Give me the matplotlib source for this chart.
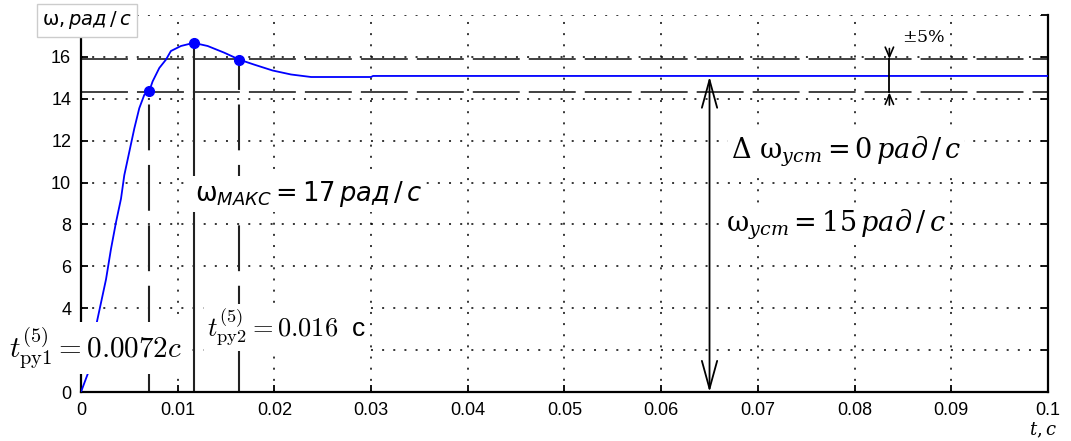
import matplotlib
matplotlib.use("Agg")
import matplotlib.pyplot as plt

plt.rcParams['font.family'] = ['Liberation Sans', 'DejaVu Sans']

# переходный процесс w(t)
t_vals = [0.0, 0.00093, 0.00155, 0.00207, 0.00259, 0.0031, 0.00362, 0.00414,
          0.00448, 0.005, 0.00552, 0.00603, 0.00655, 0.00707, 0.00741, 0.0081,
          0.00879, 0.0093, 0.01034, 0.01165, 0.0131, 0.01482, 0.01637, 0.01792,
          0.01982, 0.02172, 0.02379, 0.0300, 0.0302, 0.1]
w_vals = [0.0, 1.15, 3.14, 4.26, 5.38, 6.82, 8.1, 9.23,
          10.35, 11.47, 12.59, 13.55, 14.19, 14.38, 14.83, 15.47,
          15.87, 16.28, 16.52, 16.67, 16.52, 16.2, 15.87, 15.63,
          15.35, 15.16, 15.04, 15.04, 15.09, 15.09]

# характерные точки: t_py1, максимум, t_py2
pt_t = [0.00707, 0.01165, 0.01637]
pt_w = [14.38, 16.67, 15.87]

w_ust = 15.06
band_hi, band_lo = 15.9, 14.3      # зона +-5%
t_arrow = 0.065
t_band = 0.0836

xticks = [0, 0.01, 0.02, 0.03, 0.04, 0.05, 0.06, 0.07, 0.08, 0.09, 0.1]
xlabels = ['0', '0.01', '0.02', '0.03', '0.04', '0.05', '0.06', '0.07', '0.08', '0.09', '0.1']
yticks = [0, 2, 4, 6, 8, 10, 12, 14, 16, 18]
ylabels = ['0', '', '4', '6', '8', '10', '12', '14', '16', '']   # 2 и 18 закрыты надписями

fig = plt.figure(figsize=(10.71, 4.41), dpi=100)
ax = fig.add_axes([0.0756, 0.111, 0.9029, 0.855])

ax.set_xlim(0, 0.1)
ax.set_ylim(0, 18)
ax.set_xticks(xticks)
ax.set_xticklabels(xlabels)
ax.set_yticks(yticks)
ax.set_yticklabels(ylabels)
ax.tick_params(direction='in', length=5, width=1.3, labelsize=13, pad=7,
               right=True, top=False)
for s in ['left', 'bottom', 'right']:
    ax.spines[s].set_linewidth(1.6)
ax.spines['top'].set_visible(False)
ax.grid(True, color='black', linestyle=(0, (1.3, 6)), linewidth=1.1)

# кривая
ax.plot(t_vals, w_vals, color='#0000ff', lw=1.3, zorder=3)

# границы +-5%
hd = (0, (26, 5))
ax.axhline(band_hi, color='#333333', lw=1.3, linestyle=hd, zorder=2)
ax.axhline(band_lo, color='#333333', lw=1.3, linestyle=hd, zorder=2)

# вертикальные линии к точкам
vd = (0, (22, 7))
ax.plot([pt_t[0], pt_t[0]], [0, pt_w[0]], color='#222222', lw=1.5, linestyle=vd, zorder=2)
ax.plot([pt_t[1], pt_t[1]], [0, pt_w[1]], color='#222222', lw=1.5, zorder=2)
ax.plot([pt_t[2], pt_t[2]], [0, pt_w[2]], color='#222222', lw=1.5, linestyle=vd, zorder=2)

ax.plot(pt_t, pt_w, 'o', color='#0000ff', markersize=7, zorder=4)

# стрелка w_уст
ax.annotate('', xy=(t_arrow, w_ust), xytext=(t_arrow, 0),
            arrowprops=dict(arrowstyle='<->,head_length=2.0,head_width=0.55',
                            color='black', lw=1.3, shrinkA=0, shrinkB=0), zorder=4)

# стрелки +-5%
ax.plot([t_band, t_band], [band_lo, band_hi], color='black', lw=1.3, zorder=4)
ax.annotate('', xy=(t_band, band_hi), xytext=(t_band, band_hi + 0.5),
            arrowprops=dict(arrowstyle='->,head_length=0.7,head_width=0.3',
                            color='black', lw=1.2, shrinkA=0, shrinkB=0), zorder=4)
ax.annotate('', xy=(t_band, band_lo), xytext=(t_band, band_lo - 0.6),
            arrowprops=dict(arrowstyle='->,head_length=0.7,head_width=0.3',
                            color='black', lw=1.2, shrinkA=0, shrinkB=0), zorder=4)
ax.text(0.0849, 16.95, r'$\pm5\%$', fontsize=12.5, math_fontfamily='dejavuserif',
        va='center', ha='left', zorder=5)

box = dict(facecolor='white', edgecolor='none', pad=2)

ax.text(0.0118, 9.45, r'$\mathrm{ω}_{\mathit{МАКС}} = 17\,\mathit{рад\,/\,с}$',
        fontsize=18.5, math_fontfamily='dejavusans', va='center', ha='left',
        bbox=box, zorder=5)
ax.text(0.0672, 11.5, r'$\Delta\ \mathrm{ω}_{\mathit{уст}} = 0\,\mathit{рад\,/\,с}$',
        fontsize=19.5, math_fontfamily='dejavuserif', va='center', ha='left',
        bbox=box, zorder=5)
ax.text(0.0667, 8.0, r'$\mathrm{ω}_{\mathit{уст}} = 15\,\mathit{рад\,/\,с}$',
        fontsize=19.5, math_fontfamily='dejavuserif', va='center', ha='left',
        bbox=box, zorder=5)
ax.text(-0.0074, 2.1, r'$t^{(5)}_{\mathrm{py}1} = 0.0072c$',
        fontsize=21, math_fontfamily='cm', va='center', ha='left',
        bbox=box, zorder=6, clip_on=False)
ax.text(0.0130, 3.1, r'$t^{(5)}_{\mathrm{py}2} = 0.016$  c',
        fontsize=19, math_fontfamily='cm', va='center', ha='left',
        bbox=box, zorder=6)

# подпись оси y в рамке
ax.text(-0.0040, 17.75, r'$\mathrm{ω}, \mathit{рад\,/\,с}$', fontsize=14,
        math_fontfamily='dejavusans', va='center', ha='left', clip_on=False,
        bbox=dict(facecolor='white', edgecolor='#cccccc', lw=1, pad=4), zorder=6)
ax.text(0.098, -1.85, r'$t, c$', fontsize=13, math_fontfamily='dejavuserif',
        va='center', ha='left', clip_on=False)

fig.savefig('out.png', dpi=100)
